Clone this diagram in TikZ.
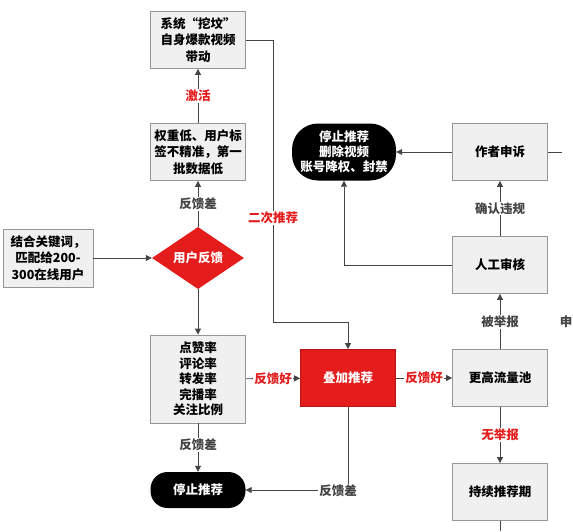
\documentclass[tikz,border=0pt]{standalone}
\usepackage{fontspec}
\setmainfont{Noto Sans CJK SC}
\usetikzlibrary{arrows.meta, shapes.geometric, positioning}
\definecolor{color1}{RGB}{68,68,68}
\definecolor{color2}{RGB}{228,28,28}
\definecolor{color3}{RGB}{150,150,150}
\definecolor{color4}{RGB}{240,240,240}

\begin{document}
\begin{tikzpicture}
	[
	x=1pt, y=-1pt,
	font=\fontsize{12.5}{16.5}\selectfont\bfseries,
        caja/.style={
            rectangle,
            draw=color3,
            thick,
            fill=color4,
            align=center,
            inner sep=1pt,
            minimum width=95pt,
            minimum height=57pt
        },
        cajaRoja/.style={
            caja,
            draw=color2!80!black,
            fill=color2,
            text=white
        },
        terminal/.style={
            rectangle,
            rounded corners=17pt,
            fill=black,
            text=white,
            align=center,
            minimum width=95pt,
            minimum height=36pt
        },
        decision/.style={
            diamond,
            fill=color2,
            text=white,
            inner sep=0pt,
            minimum width=92pt,
            minimum height=55pt
        },
        etiqueta/.style={
            fill=white,
            inner sep=1pt,
            text=color1
        },
        etiquetaRoja/.style={
            etiqueta,
            text=color2
        },
        flechaAccion/.style={
            -{Triangle[width=6pt,length=6pt]},
            color1,
            thick
        },
        linea/.style={
            color1,
            thick
        }
    ]
    \useasboundingbox (0,0) rectangle (573,531);

    \node(sistema) [caja] at (198,40) {系统“挖坟”\\自身爆款视频\\带动};
    \node(peso) [caja] at (198,152) {权重低、用户标\\签不精准，第一\\批数据低};
    \node(palabras) [caja, minimum width=90pt, minimum height=58pt] at (48,258) {结合关键词，\\匹配给200-\\300在线用户};
    \node(retro) [decision] at (198,258) {用户反馈};
    \node(indices) [caja, minimum height=88pt, font=\fontsize{12.5}{15.5}\selectfont\bfseries] at (198,379) {点赞率\\评论率\\转发率\\完播率\\关注比例};
    \node(parar) [terminal] at (198,490) {停止推荐};
    \node(superpuesto) [cajaRoja] at (348,378) {叠加推荐};
    \node(pool) [caja] at (500,378) {更高流量池};
    \node(continuo) [caja] at (500,492) {持续推荐期};
    \node(revision) [caja] at (500,265) {人工审核};
    \node(apelacion) [caja] at (500,152) {作者申诉};
    \node(castigo) [terminal, rounded corners=26pt, minimum width=104pt, minimum height=57pt, font=\fontsize{12.5}{15}\selectfont\bfseries] at (344,152) {停止推荐\\删除视频\\账号降权、封禁};

    \coordinate(esquinaSistema) at (273,40);
    \coordinate(esquinaBaja) at (273,322);
    \coordinate(sobreSuperpuesto) at (348,322);
    \coordinate(bajoSuperpuesto) at (348,490);
    \coordinate(esquinaRevision) at (344,265);
    \coordinate(bordeDerecho) at (562,152);
    \coordinate(bordeInferior) at (500,531);

    \draw[flechaAccion] (palabras)--(retro);
    \draw[flechaAccion] (retro)--node[etiqueta]{反馈差}(peso);
    \draw[flechaAccion] (peso)--node[etiquetaRoja]{激活}(sistema);
    \draw[flechaAccion] (retro)--(indices);
    \draw[flechaAccion] (indices)--node[etiqueta, pos=0.45]{反馈差}(parar);
    \draw[flechaAccion] (indices)--node[etiquetaRoja]{反馈好}(superpuesto);
    \draw[flechaAccion] (superpuesto)--node[etiquetaRoja]{反馈好}(pool);
    \draw[flechaAccion] (sistema.east)--(esquinaSistema)--node[etiquetaRoja, pos=0.63]{二次推荐}(esquinaBaja)--(sobreSuperpuesto)--(superpuesto);
    \draw[flechaAccion] (superpuesto)--(bajoSuperpuesto)--(parar);
    \node(etiquetaParar) [etiqueta] at (338,491) {反馈差};
    \draw[flechaAccion] (pool)--node[etiqueta]{被举报}(revision);
    \draw[flechaAccion] (pool)--node[etiquetaRoja]{无举报}(continuo);
    \draw[flechaAccion] (revision)--node[etiqueta]{确认违规}(apelacion);
    \draw[flechaAccion] (revision.west)--(esquinaRevision)--(castigo);
    \draw[flechaAccion] (apelacion)--(castigo);
    \draw[linea] (apelacion.east)--(bordeDerecho);
    \draw[linea] (continuo)--(bordeInferior);
    \node(textoDerecho) [etiqueta] at (566,322) {申};
\end{tikzpicture}
\end{document}
